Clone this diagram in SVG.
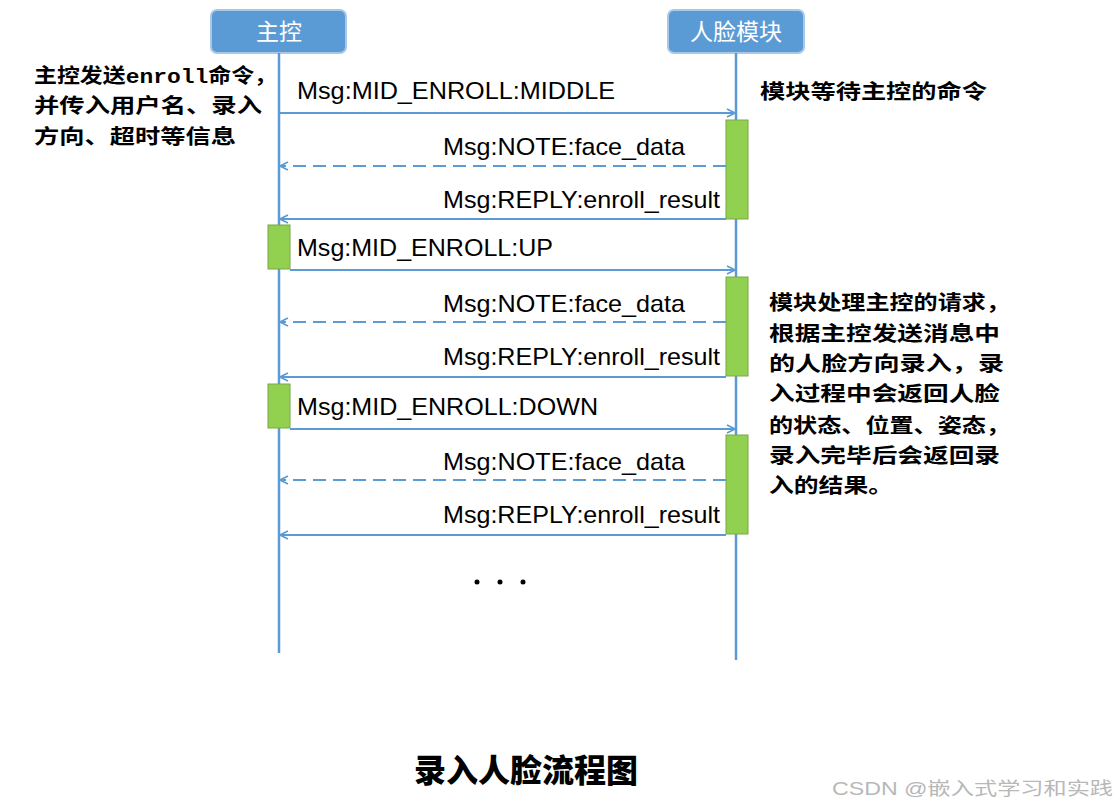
<svg xmlns="http://www.w3.org/2000/svg" width="1120" height="807" viewBox="0 0 1120 807">
<style>
.hdr{fill:#5B9BD5;stroke:#A9C8E8;stroke-width:2}
.hdrt{font-family:"Noto Sans CJK SC",sans-serif;font-size:23px;fill:#fff;text-anchor:middle}
.life{stroke:#5B9BD5;stroke-width:2.5;fill:none}
.msg{stroke:#5B9BD5;stroke-width:2;fill:none}
.dash{stroke-dasharray:13 7}
.act{fill:#92D050;stroke:#78A848;stroke-width:1}
.lbl{font-family:"Liberation Sans",Arial,sans-serif;font-size:24px;fill:#000}
.note{font-family:"Noto Sans CJK SC",sans-serif;font-size:20.5px;font-weight:bold;fill:#000}
</style>
<defs>
<marker id="ah" viewBox="0 0 10 10" refX="9" refY="5" markerWidth="10" markerHeight="10" markerUnits="userSpaceOnUse" orient="auto">
<path d="M1,1 L9,5 L1,9" fill="none" stroke="#5B9BD5" stroke-width="1.6"/>
</marker>
</defs>
<rect width="1120" height="807" fill="#fff"/>

<g id="node-master">
<rect class="hdr" x="211" y="10" width="135" height="43" rx="6"/>
<text class="hdrt" x="279" y="40">主控</text>
</g>
<g id="node-face">
<rect class="hdr" x="668" y="10" width="136" height="43" rx="6"/>
<text class="hdrt" x="736" y="40">人脸模块</text>
</g>

<g id="lifelines">
<line class="life" x1="279" y1="53" x2="279" y2="653"/>
<line class="life" x1="736" y1="53" x2="736" y2="660"/>
</g>

<g id="activations">
<rect class="act" x="726" y="120" width="22" height="99"/>
<rect class="act" x="268" y="225" width="22" height="44"/>
<rect class="act" x="726" y="277" width="22" height="99"/>
<rect class="act" x="268" y="384" width="22" height="44"/>
<rect class="act" x="726" y="435" width="22" height="99"/>
</g>

<g id="connectors">
<line class="msg" x1="279" y1="113" x2="735" y2="113" marker-end="url(#ah)"/>
<line class="msg dash" x1="726" y1="166" x2="280" y2="166" marker-end="url(#ah)"/>
<line class="msg" x1="726" y1="219" x2="280" y2="219" marker-end="url(#ah)"/>
<line class="msg" x1="290" y1="270" x2="735" y2="270" marker-end="url(#ah)"/>
<line class="msg dash" x1="726" y1="322" x2="280" y2="322" marker-end="url(#ah)"/>
<line class="msg" x1="726" y1="377" x2="280" y2="377" marker-end="url(#ah)"/>
<line class="msg" x1="290" y1="429" x2="735" y2="429" marker-end="url(#ah)"/>
<line class="msg dash" x1="726" y1="480" x2="280" y2="480" marker-end="url(#ah)"/>
<line class="msg" x1="726" y1="535" x2="280" y2="535" marker-end="url(#ah)"/>
</g>

<g id="labels">
<text class="lbl" x="297" y="99" textLength="318" lengthAdjust="spacingAndGlyphs">Msg:MID_ENROLL:MIDDLE</text>
<text class="lbl" x="443" y="155" textLength="242" lengthAdjust="spacingAndGlyphs">Msg:NOTE:face_data</text>
<text class="lbl" x="443" y="208" textLength="277" lengthAdjust="spacingAndGlyphs">Msg:REPLY:enroll_result</text>
<text class="lbl" x="297" y="256" textLength="256" lengthAdjust="spacingAndGlyphs">Msg:MID_ENROLL:UP</text>
<text class="lbl" x="443" y="312" textLength="242" lengthAdjust="spacingAndGlyphs">Msg:NOTE:face_data</text>
<text class="lbl" x="443" y="365" textLength="277" lengthAdjust="spacingAndGlyphs">Msg:REPLY:enroll_result</text>
<text class="lbl" x="297" y="415" textLength="301" lengthAdjust="spacingAndGlyphs">Msg:MID_ENROLL:DOWN</text>
<text class="lbl" x="443" y="470" textLength="242" lengthAdjust="spacingAndGlyphs">Msg:NOTE:face_data</text>
<text class="lbl" x="443" y="523" textLength="277" lengthAdjust="spacingAndGlyphs">Msg:REPLY:enroll_result</text>
</g>

<g id="ellipsis" fill="#000">
<circle cx="477" cy="582" r="2.5"/>
<circle cx="500" cy="582" r="2.5"/>
<circle cx="523" cy="582" r="2.5"/>
</g>

<g id="note-left">
<text class="note" x="34" y="83" textLength="243" lengthAdjust="spacingAndGlyphs">主控发送<tspan font-family="'Liberation Mono',monospace">enroll</tspan>命令，</text>
<text class="note" x="34" y="113" textLength="228" lengthAdjust="spacingAndGlyphs">并传入用户名、录入</text>
<text class="note" x="34" y="144" textLength="202" lengthAdjust="spacingAndGlyphs">方向、超时等信息</text>
</g>

<g id="note-right-top">
<text class="note" x="760" y="99" textLength="227" lengthAdjust="spacingAndGlyphs">模块等待主控的命令</text>
</g>

<g id="note-right">
<text class="note" x="769" y="310" textLength="241" lengthAdjust="spacingAndGlyphs">模块处理主控的请求，</text>
<text class="note" x="769" y="341" textLength="231" lengthAdjust="spacingAndGlyphs">根据主控发送消息中</text>
<text class="note" x="769" y="371" textLength="235" lengthAdjust="spacingAndGlyphs">的人脸方向录入，录</text>
<text class="note" x="769" y="401" textLength="231" lengthAdjust="spacingAndGlyphs">入过程中会返回人脸</text>
<text class="note" x="769" y="433" textLength="241" lengthAdjust="spacingAndGlyphs">的状态、位置、姿态，</text>
<text class="note" x="769" y="463" textLength="231" lengthAdjust="spacingAndGlyphs">录入完毕后会返回录</text>
<text class="note" x="769" y="493" textLength="124" lengthAdjust="spacingAndGlyphs">入的结果。</text>
</g>

<g id="title">
<text x="526" y="782" text-anchor="middle" font-family="'Noto Sans CJK SC',sans-serif" font-size="32" font-weight="900" fill="#000">录入人脸流程图</text>
</g>
<g id="watermark">
<text x="832" y="795" font-family="'Liberation Sans','Noto Sans CJK SC',sans-serif" font-size="18" fill="#B8B8B8" textLength="281" lengthAdjust="spacingAndGlyphs">CSDN @嵌入式学习和实践</text>
</g>
</svg>
